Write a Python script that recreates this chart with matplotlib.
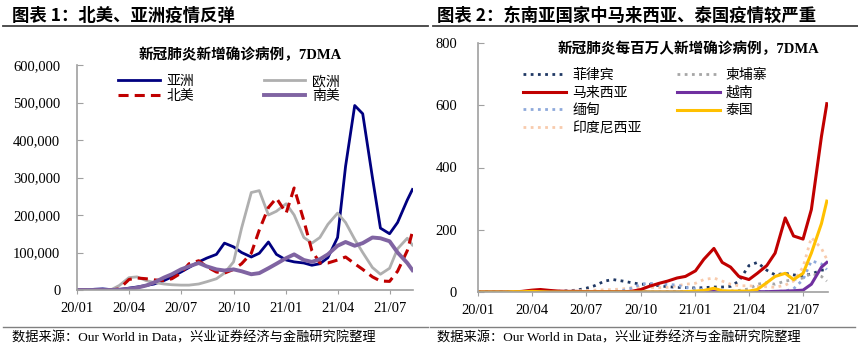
import matplotlib
matplotlib.use("Agg")
import matplotlib.pyplot as plt
import matplotlib.dates as mdates
from matplotlib.lines import Line2D
from matplotlib.ticker import FuncFormatter
import pandas as pd

# semi-monthly sample dates
dates = list(pd.date_range("2020-01-01", "2021-08-01", freq="SMS")) + [pd.Timestamp("2021-08-10")]

# left chart: new cases, 7DMA (thousands)
asia = [0, 0, 2, 3, 1, 1, 5, 8, 12, 16, 25, 35, 48, 60, 75, 85, 95, 125, 115, 100,
        88, 98, 128, 95, 80, 75, 72, 66, 70, 86, 140, 330, 492, 470, 300, 165, 150, 180, 240, 268]
europe = [0, 0, 0, 0, 1, 12, 33, 35, 25, 20, 16, 14, 13, 13, 16, 22, 30, 45, 75, 165,
          260, 265, 200, 210, 230, 200, 140, 125, 140, 175, 205, 180, 135, 100, 60, 42, 58, 110, 138, 120]
north_america = [0, 0, 0, 0, 0, 3, 28, 32, 30, 27, 25, 30, 45, 70, 78, 62, 48, 45, 55, 70,
                 98, 160, 220, 245, 205, 272, 185, 105, 72, 72, 80, 88, 70, 55, 35, 24, 23, 50, 105, 155]
south_america = [0, 0, 0, 0, 0, 1, 3, 6, 12, 20, 33, 42, 55, 63, 72, 63, 55, 52, 55, 50,
                 42, 45, 58, 70, 85, 95, 80, 75, 82, 95, 118, 128, 118, 125, 140, 138, 130, 100, 72, 53]

# right chart: new cases per million, 7DMA
philippines = [0, 0, 0, 0, 0, 0, 1, 2, 2, 2, 4, 6, 12, 20, 35, 40, 35, 30, 25, 25,
               20, 17, 15, 14, 13, 14, 16, 16, 18, 35, 85, 95, 70, 55, 60, 55, 52, 58, 70, 72]
cambodia = [0, 0, 0, 0, 0, 0, 0, 0, 0, 0, 0, 0, 0, 0, 0, 0, 0, 0, 0, 0,
            0, 1, 1, 1, 1, 1, 1, 2, 3, 5, 10, 25, 30, 25, 35, 40, 45, 60, 50, 35]
malaysia = [0, 0, 0, 0, 0, 2, 6, 8, 5, 3, 2, 2, 1, 1, 1, 1, 1, 2, 8, 18,
            28, 35, 45, 50, 68, 105, 140, 95, 80, 50, 40, 60, 85, 125, 238, 180, 170, 265, 500, 605]
vietnam = [0, 0, 0, 0, 0, 0, 0, 0, 0, 0, 0, 0, 0, 0, 0, 0, 0, 0, 0, 0,
           0, 0, 0, 0, 0, 1, 3, 1, 0, 0, 0, 1, 1, 2, 3, 4, 6, 25, 80, 95]
myanmar = [0, 0, 0, 0, 0, 0, 0, 0, 0, 0, 0, 0, 0, 0, 0, 1, 5, 12, 25, 28,
           25, 25, 22, 15, 10, 8, 3, 2, 2, 2, 2, 2, 2, 2, 3, 10, 40, 100, 90, 72]
thailand = [0, 0, 0, 0, 1, 1, 2, 1, 0, 0, 0, 0, 0, 0, 0, 0, 0, 0, 0, 0,
            0, 0, 0, 1, 3, 5, 12, 4, 3, 3, 3, 8, 30, 50, 60, 40, 60, 125, 220, 292]
indonesia = [0, 0, 0, 0, 0, 0, 1, 1, 2, 2, 3, 4, 5, 6, 7, 8, 10, 14, 15, 15,
             14, 15, 20, 25, 28, 40, 45, 35, 25, 20, 20, 18, 17, 15, 22, 35, 80, 175, 140, 105]

quarter_ticks = pd.date_range("2020-01-01", "2021-07-01", freq="QS")

cjk = ["Liberation Serif", "Noto Sans CJK SC"]
plt.rcParams["font.family"] = cjk

W, H = 858, 347
fig = plt.figure(figsize=(W / 100, H / 100), dpi=100)


def fx(px):
    return px / W


def fy(py):
    return 1 - py / H


def style_axes(ax, xmax):
    for s in ["top", "right"]:
        ax.spines[s].set_visible(False)
    for s in ["left", "bottom"]:
        ax.spines[s].set_color("#A0A0A0")
        ax.spines[s].set_linewidth(1.2)
    ax.tick_params(axis="y", direction="in", length=4, color="#A0A0A0", labelsize=10.5, pad=12)
    ax.tick_params(axis="x", direction="out", length=3, color="#A0A0A0", labelsize=10.5, pad=6)
    ax.set_xticks(quarter_ticks)
    ax.xaxis.set_major_formatter(mdates.DateFormatter("%y/%m"))
    ax.set_xlim(pd.Timestamp("2020-01-01"), xmax)
    for lab in ax.get_xticklabels() + ax.get_yticklabels():
        lab.set_family("Liberation Serif")


# ---- left chart ----
ax1 = fig.add_axes([fx(77), fy(290), fx(413 - 77), (290 - 65) / H])
to_k = lambda v: [x * 1000 for x in v]
h_asia, = ax1.plot(dates, to_k(asia), color="#000080", lw=2.0, label="亚洲")
h_eu, = ax1.plot(dates, to_k(europe), color="#AFAFAF", lw=2.0, label="欧洲")
h_na, = ax1.plot(dates, to_k(north_america), color="#C00000", lw=2.2, ls=(0, (3.3, 2)), label="北美")
h_sa, = ax1.plot(dates, to_k(south_america), color="#8064A2", lw=2.8, label="南美")
ax1.set_ylim(0, 600000)
ax1.set_yticks(range(0, 600001, 100000))
ax1.yaxis.set_major_formatter(FuncFormatter(lambda v, p: f"{int(v):,}"))
style_axes(ax1, pd.Timestamp("2021-08-11"))
ax1.text(0.485, 1.045, "新冠肺炎新增确诊病例，7DMA", transform=ax1.transAxes,
         ha="center", va="center", fontsize=10.5, fontweight="bold")
ax1.legend([h_asia, h_na, h_eu, h_sa], ["亚洲", "北美", "欧洲", "南美"], ncol=2,
           loc="upper left", bbox_to_anchor=(0.122, 0.955), frameon=False,
           handlelength=3.0, handletextpad=0.5, columnspacing=5.0,
           labelspacing=0.1, borderpad=0, borderaxespad=0, fontsize=10)

# ---- right chart ----
ax2 = fig.add_axes([fx(478), fy(292), fx(828 - 478), (292 - 43) / H])
dot = (0, (1, 1.6))
h_ph, = ax2.plot(dates, philippines, color="#1F3864", lw=2.0, ls=dot, label="菲律宾")
h_kh, = ax2.plot(dates, cambodia, color="#A6A6A6", lw=2.0, ls=dot, label="柬埔寨")
h_id, = ax2.plot(dates, indonesia, color="#F8CBAD", lw=2.0, ls=dot, label="印度尼西亚")
h_mm, = ax2.plot(dates, myanmar, color="#8EA9DB", lw=2.0, ls=dot, label="缅甸")
h_my, = ax2.plot(dates, malaysia, color="#C00000", lw=2.2, label="马来西亚")
h_vn, = ax2.plot(dates, vietnam, color="#7030A0", lw=2.2, label="越南")
h_th, = ax2.plot(dates, thailand, color="#FFC000", lw=2.2, label="泰国")
ax2.set_ylim(0, 800)
ax2.set_yticks(range(0, 801, 200))
style_axes(ax2, pd.Timestamp("2021-08-12"))
ax2.tick_params(axis="y", pad=15)
ax2.text(0.6, 0.975, "新冠肺炎每百万人新增确诊病例，7DMA", transform=ax2.transAxes,
         ha="center", va="center", fontsize=10.5, fontweight="bold")
ax2.legend([h_ph, h_my, h_mm, h_id, h_kh, h_vn, h_th],
           ["菲律宾", "马来西亚", "缅甸", "印度尼西亚", "柬埔寨", "越南", "泰国"], ncol=2,
           loc="upper left", bbox_to_anchor=(0.129, 0.895), frameon=False,
           handlelength=3.1, handletextpad=0.45, columnspacing=2.5,
           labelspacing=0.32, borderpad=0, borderaxespad=0, fontsize=10)

# ---- titles, rules and source notes ----
fig.text(fx(12), fy(16), "图表 1：北美、亚洲疫情反弹", fontsize=12.5, fontweight="bold",
         ha="left", va="center", family="Noto Sans CJK SC")
fig.text(fx(437), fy(16), "图表 2：东南亚国家中马来西亚、泰国疫情较严重", fontsize=12.5,
         fontweight="bold", ha="left", va="center", family="Noto Sans CJK SC")
for x0, x1 in [(3, 428), (433, 858)]:
    fig.add_artist(Line2D([fx(x0), fx(x1)], [fy(26)] * 2, color="#404040", lw=1.3))
for x0, x1 in [(3, 428), (430, 855)]:
    fig.add_artist(Line2D([fx(x0), fx(x1)], [fy(327)] * 2, color="#808080", lw=1.0))
src = "数据来源：Our World in Data，兴业证券经济与金融研究院整理"
fig.text(fx(12), fy(338), src, fontsize=9.5, ha="left", va="center")
fig.text(fx(437), fy(338), src, fontsize=9.5, ha="left", va="center")

fig.savefig("out.png", dpi=100)
